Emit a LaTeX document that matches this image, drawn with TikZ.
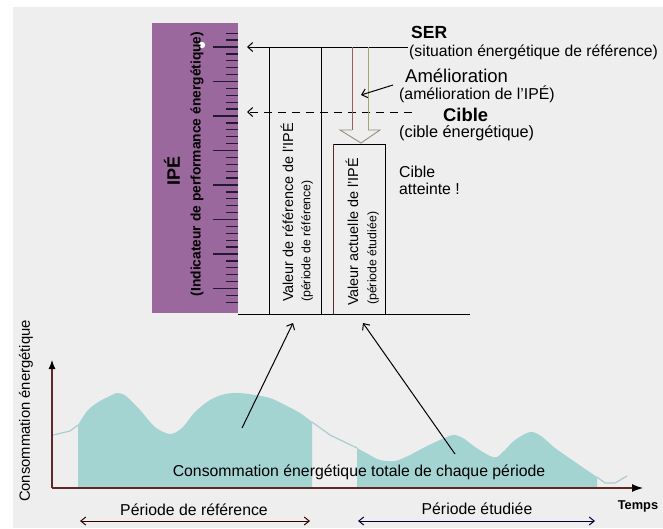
\documentclass[tikz,border=0pt]{standalone}
\usepackage{fontspec}
\setmainfont{Liberation Sans}
\usetikzlibrary{arrows.meta}
\definecolor{bgc}{RGB}{238,238,238}
\definecolor{ipe}{RGB}{155,104,157}
\definecolor{cons}{RGB}{164,212,210}
\definecolor{consline}{RGB}{172,204,210}
\definecolor{axisc}{RGB}{95,40,40}
\definecolor{tickc}{RGB}{35,25,50}
\definecolor{shaftL}{RGB}{150,95,95}
\definecolor{shaftR}{RGB}{165,165,115}
\definecolor{headc}{RGB}{150,140,130}
\newcommand{\myfs}[1]{\fontsize{#1}{#1}\selectfont}
\begin{document}
\begin{tikzpicture}[x=1pt,y=-1pt,
  txt/.style={inner sep=0pt, anchor=west, font=\myfs{15.8}},
  rot/.style={inner sep=0pt, rotate=90},
  barb/.style={-{Straight Barb[length=5pt,width=9pt]}},
  dbarb/.style={{Straight Barb[length=5pt,width=8pt]}-{Straight Barb[length=5pt,width=8pt]}},
  thin1/.style={line width=1pt}]
\useasboundingbox (0,0) rectangle (663,528);
\fill[white] (0,0) rectangle (663,528);
\fill[bgc] (13,7) rectangle (663,528);

% ---------- IPE scale ----------
\fill[ipe] (152,23) rectangle (238,313);
\foreach \i in {-2,...,37}{
  \pgfmathsetmacro\yy{47+6.9*\i}
  \pgfmathtruncatemacro\m{mod(\i+10,5)}
  \ifnum\m=0
    \draw[tickc, line width=1.3pt] (213,\yy) -- (238,\yy);
  \else
    \draw[tickc, line width=1.3pt] (226,\yy) -- (238,\yy);
  \fi
}
\fill[white] (202,45) circle (3.2);
\node[rot, font=\bfseries\myfs{18}] (ipe) at (172,171) {IPÉ};
\node[rot, font=\bfseries\myfs{13.8}] (ipedef) at (197,164) {(Indicateur de performance énergétique)};

% ---------- boxes ----------
\coordinate (serR) at (408,47);
\coordinate (serL) at (247,47);
\coordinate (cibR) at (412,112);
\coordinate (cibL) at (247,112);
\draw[thin1] (238,314) -- (470,314);
\draw[thin1] (269,47) -- (269,314);
\draw[thin1] (321,47) -- (321,314);
\draw[thin1] (385,314) -- (385,144) -- (333,144);
\draw[thin1, axisc] (333,144) -- (333,314);
\draw[thin1, barb] (serR) -- (serL);
\draw[thin1, barb, dash pattern=on 8pt off 6pt] (cibR) -- (cibL);

% hollow arrow
\draw[shaftL, line width=0.9pt] (352,47) -- (352,130);
\draw[shaftR, line width=0.9pt] (368,47) -- (368,130);
\draw[headc, line width=0.9pt] (352,130) -- (340,130) -- (361,143) -- (380,130) -- (368,130);

% Amelioration arrow
\coordinate (amS) at (393,85);
\coordinate (amE) at (361,95);
\draw[thin1, barb] (amS) -- (amE);

% rotated box labels
\node[rot, anchor=west, font=\myfs{14.4}] (vref) at (287,302) {Valeur de référence de l'IPÉ};
\node[rot, anchor=west, font=\myfs{12.3}] (pref) at (307,302) {(période de référence)};
\node[rot, anchor=west, font=\myfs{14.4}] (vact) at (352,306) {Valeur actuelle de l'IPÉ};
\node[rot, anchor=west, font=\myfs{12.3}] (pact) at (373,305) {(période étudiée)};

% right texts
\node[txt, font=\bfseries\myfs{17.5}] (ser) at (411,32) {SER};
\node[txt, font=\myfs{15.7}] (serdef) at (409,52) {(situation énergétique de référence)};
\node[txt, font=\myfs{18.5}] (am) at (405,76) {Amélioration};
\node[txt] (amdef) at (399,94) {(amélioration de l'IPÉ)};
\node[txt, font=\bfseries\myfs{18.4}] (cib) at (443,115) {Cible};
\node[txt, font=\myfs{16.3}] (cibdef) at (399,133) {(cible énergétique)};
\node[txt] (att1) at (399,172) {Cible};
\node[txt] (att2) at (399,189) {atteinte !};

% ---------- consumption graph ----------
\fill[cons] (78,488) -- plot[smooth] coordinates {(78,425) (88,410) (100,401) (108,397) (117,393) (126,396) (140,410) (155,427) (170,434) (182,428) (195,412) (210,400) (225,394) (240,393) (255,395) (270,398) (285,405) (300,413) (312,422)} -- (312,488) -- cycle;
\fill[cons] (357,488) -- plot[smooth] coordinates {(357,448) (368,454) (380,460) (395,461) (410,455) (425,447) (440,440) (453,435) (463,438) (475,447) (490,456) (497,457) (505,450) (515,440) (530,432) (541,436) (555,448) (575,462) (597,477)} -- (597,488) -- cycle;
\draw[consline, line width=1.2pt] (53,435) -- (70,431) -- (78,425);
\draw[consline, line width=1.2pt] (312,422) -- (330,435) -- (357,448);
\draw[consline, line width=1.2pt] (597,477) -- (605,483) -- (615,483) -- (627,476);

\coordinate (orig) at (52,488);
\coordinate (ytop) at (52,360);
\coordinate (xend) at (643,488);
\draw[axisc, line width=1.1pt, -{Latex[length=9pt,width=7pt,black]}] (orig) -- (ytop);
\draw[axisc, line width=1.1pt, -{Latex[length=11pt,width=8pt,black]}] (orig) -- (xend);

\node[rot, font=\myfs{14.8}] (ylab) at (26,411) {Consommation énergétique};
\node[txt, anchor=center, font=\bfseries\myfs{12.8}] (temps) at (638,506) {Temps};
\node[txt, anchor=center] (total) at (359,472) {Consommation énergétique totale de chaque période};
\node[txt, anchor=center] (pr) at (194,510) {Période de référence};
\node[txt, anchor=center] (pe) at (477,509) {Période étudiée};

\coordinate (prL) at (80,521);
\coordinate (prR) at (310,521);
\coordinate (peL) at (358,521);
\coordinate (peR) at (595,521);
\draw[thin1, dbarb, black!80!red] (prL) -- (prR);
\draw[thin1, dbarb, black!80!blue] (peL) -- (peR);

\coordinate (src1) at (242,428);
\coordinate (tgt1) at (293,323);
\coordinate (src2) at (455,454);
\coordinate (tgt2) at (363,323);
\draw[thin1, barb] (src1) -- (tgt1);
\draw[thin1, barb] (src2) -- (tgt2);
\end{tikzpicture}
\end{document}
